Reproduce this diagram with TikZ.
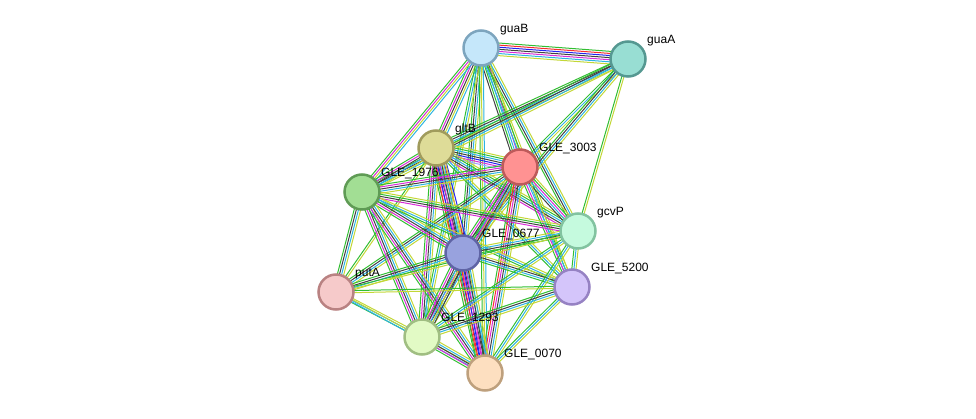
\documentclass[tikz,border=0pt]{standalone}
\usepackage{fontspec}
\setsansfont{Liberation Sans}
\usetikzlibrary{calc}
\pgfdeclarelayer{edges}
\pgfsetlayers{edges,main}
% evidence colours
\definecolor{cgreen}{RGB}{50,190,50}
\definecolor{cred}{RGB}{245,45,45}
\definecolor{cblue}{RGB}{35,35,240}
\definecolor{cblack}{RGB}{65,65,65}
\definecolor{cmag}{RGB}{215,45,215}
\definecolor{ccyan}{RGB}{45,180,225}
\definecolor{cyell}{RGB}{195,215,55}
\definecolor{clav}{RGB}{160,160,255}
\tikzset{
  prot/.style={circle, minimum size=35pt, inner sep=0pt, line width=2.5pt},
  lbl/.style={font=\sffamily\fontsize{12}{14}\selectfont, inner sep=1pt, label distance=2.5pt, xshift=3pt, yshift=-3pt},
  tg/.style={draw=cgreen}, tr/.style={draw=cred}, tb/.style={draw=cblue},
  tk/.style={draw=cblack}, tm/.style={draw=cmag}, tc/.style={draw=ccyan},
  ty/.style={draw=cyell}, tl/.style={draw=clav}
}
% bundle of parallel lines between two proteins
\newcommand\bundle[3]{%
  \foreach \col [count=\n] in {#3}{\xdef\nb{\n}}%
  \foreach \col [count=\i] in {#3}{%
    \pgfmathsetmacro\off{(\i-(\nb+1)/2)*2.1}%
    \draw[\col, line width=1pt] ($(#1)!\off pt!90:(#2)$) -- ($(#2)!\off pt!-90:(#1)$);
  }}
\begin{document}
\begin{tikzpicture}[x=1pt, y=-1pt]
  \useasboundingbox (0,0) rectangle (976,419);
  %proteins
  \node[prot, fill={rgb,255:red,197;green,231;blue,250}, draw={rgb,255:red,125;green,165;blue,190}, label={[lbl]45:guaB}] (guaB) at (481,48) {};
  \node[prot, fill={rgb,255:red,152;green,222;blue,211}, draw={rgb,255:red,85;green,152;blue,145}, label={[lbl]45:guaA}] (guaA) at (628,59) {};
  \node[prot, fill={rgb,255:red,222;green,220;blue,152}, draw={rgb,255:red,160;green,155;blue,92}, label={[lbl]45:gltB}] (gltB) at (436,148) {};
  \node[prot, fill={rgb,255:red,255;green,146;blue,146}, draw={rgb,255:red,190;green,90;blue,90}, label={[lbl]45:GLE\_3003}] (g3003) at (520,167) {};
  \node[prot, fill={rgb,255:red,162;green,222;blue,148}, draw={rgb,255:red,95;green,155;blue,85}, label={[lbl]45:GLE\_1976}] (g1976) at (362,192) {};
  \node[prot, fill={rgb,255:red,197;green,250;blue,222}, draw={rgb,255:red,130;green,195;blue,160}, label={[lbl]45:gcvP}] (gcvP) at (578,231) {};
  \node[prot, fill={rgb,255:red,152;green,162;blue,222}, draw={rgb,255:red,95;green,100;blue,165}, label={[lbl]45:GLE\_0677}] (g0677) at (463,253) {};
  \node[prot, fill={rgb,255:red,212;green,197;blue,250}, draw={rgb,255:red,150;green,130;blue,195}, label={[lbl]45:GLE\_5200}] (g5200) at (572,287) {};
  \node[prot, fill={rgb,255:red,246;green,202;blue,202}, draw={rgb,255:red,185;green,130;blue,130}, label={[lbl]45:putA}] (putA) at (336,292) {};
  \node[prot, fill={rgb,255:red,226;green,250;blue,197}, draw={rgb,255:red,160;green,190;blue,130}, label={[lbl]45:GLE\_1293}] (g1293) at (422,337) {};
  \node[prot, fill={rgb,255:red,253;green,223;blue,192}, draw={rgb,255:red,190;green,160;blue,125}, label={[lbl]45:GLE\_0070}] (g0070) at (485,373) {};

  %links
  \begin{pgfonlayer}{edges}
  \bundle{guaB}{guaA}{ty,tc,tm,tk,tb,tr,tg}
  \bundle{guaB}{gltB}{tg,tm,tk,ty,tc}
  \bundle{guaB}{g1976}{tg,tm,ty,tc}
  \bundle{guaB}{g3003}{tk,tg,tc,tm,ty}
  \bundle{guaB}{g0677}{tg,tk,tc,ty}
  \bundle{guaB}{gcvP}{tg,tk,tc,ty}
  \bundle{guaB}{g5200}{tc,tg,ty}
  \bundle{guaB}{g1293}{tg,tc,ty}
  \bundle{guaB}{g0070}{tg,ty,tc}
  \bundle{guaA}{gltB}{tg,tk,tc,ty}
  \bundle{guaA}{g1976}{tg,tk,tc,ty}
  \bundle{guaA}{g3003}{tg,tc,ty}
  \bundle{guaA}{g0677}{tg,tk,tc,ty}
  \bundle{guaA}{gcvP}{tg,ty}
  \bundle{gltB}{g3003}{tl,tm,tb,tk,tc,tg,ty}
  \bundle{gltB}{g1976}{tg,tm,tk,tc,ty}
  \bundle{gltB}{g0677}{tg,tm,tk,tc,ty,tr,tb}
  \bundle{gltB}{gcvP}{tm,tk,tc,tg,ty}
  \bundle{gltB}{g5200}{tg,tc,ty}
  \bundle{gltB}{g1293}{tg,tm,tk,tc,ty}
  \bundle{gltB}{g0070}{tg,tr,tb,tm,tk,tc,ty}
  \bundle{gltB}{putA}{tg,ty}
  \bundle{g3003}{g1976}{tg,tm,tk,tc,ty}
  \bundle{g3003}{g0677}{tg,tm,tk,tc,ty,tr}
  \bundle{g3003}{gcvP}{tk,tc,tm,tg,ty}
  \bundle{g3003}{g5200}{tg,tm,tc,ty}
  \bundle{g3003}{g1293}{tg,tm,tk,tc,ty}
  \bundle{g3003}{g0070}{tg,tr,tm,tk,tc,ty}
  \bundle{g3003}{putA}{tg,tk,tc,ty}
  \bundle{g1976}{g0677}{tg,tm,tk,tc,ty}
  \bundle{g1976}{gcvP}{tm,tk,tg,ty}
  \bundle{g1976}{g5200}{tg,tc,ty}
  \bundle{g1976}{putA}{tg,tk,tc,ty}
  \bundle{g1976}{g1293}{tg,tm,tk,tc,ty}
  \bundle{g1976}{g0070}{tg,tm,tk,tc,ty}
  \bundle{g0677}{gcvP}{tg,tk,tc,ty}
  \bundle{g0677}{g5200}{tg,tc,tk,ty}
  \bundle{g0677}{putA}{tg,tk,tc,ty}
  \bundle{g0677}{g1293}{tg,tm,tk,tc,ty,tk}
  \bundle{g0677}{g0070}{tg,tr,tb,tm,tk,tc,ty}
  \bundle{gcvP}{g5200}{tg,tc,ty}
  \bundle{gcvP}{putA}{tg,ty}
  \bundle{gcvP}{g1293}{tg,tc,ty}
  \bundle{gcvP}{g0070}{tg,tc,ty}
  \bundle{g5200}{putA}{tg,ty}
  \bundle{g5200}{g1293}{tg,tk,tc,ty}
  \bundle{g5200}{g0070}{tg,tc,ty}
  \bundle{putA}{g1293}{tg,tc,ty}
  \bundle{putA}{g0070}{tc,ty}
  \bundle{g1293}{g0070}{tg,tm,tk,tc,ty}
  \end{pgfonlayer}
\end{tikzpicture}
\end{document}
